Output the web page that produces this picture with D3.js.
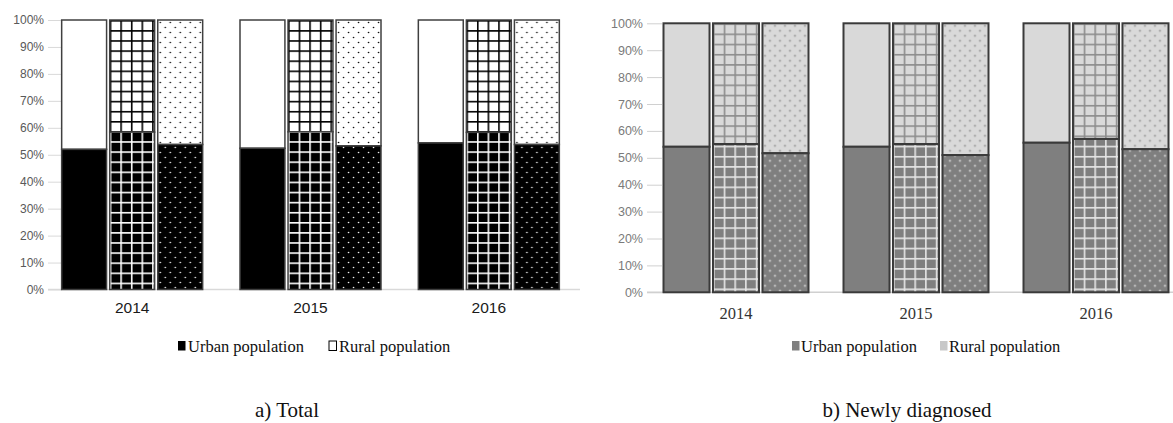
<!DOCTYPE html>
<html>
<head>
<meta charset="utf-8">
<script src="https://cdn.jsdelivr.net/npm/d3@7"></script>
<style>
html,body{margin:0;padding:0;background:#fff;}
svg{display:block;}
</style>
</head>
<body>
<svg id="chart" width="1173" height="423"></svg>
<script>
// ---------- data ----------
const years = ["2014", "2015", "2016"];
const barKinds = ["solid", "grid", "dots"];
const yTicks = [0, 10, 20, 30, 40, 50, 60, 70, 80, 90, 100];
const legendLabels = ["Urban population", "Rural population"];
const captions = ["a) Total", "b) Newly diagnosed"];

// a) Total (percent)
const totalUrbanSolid = [52.0, 52.4, 54.4];
const totalUrbanGrid  = [58.4, 58.5, 58.3];
const totalUrbanDots  = [53.8, 53.3, 53.8];
const totalRuralSolid = [48.0, 47.6, 45.6];
const totalRuralGrid  = [41.6, 41.5, 41.7];
const totalRuralDots  = [46.2, 46.7, 46.2];

// b) Newly diagnosed (percent)
const newUrbanSolid = [54.1, 54.1, 55.6];
const newUrbanGrid  = [55.1, 55.1, 57.0];
const newUrbanDots  = [51.7, 51.0, 53.2];
const newRuralSolid = [45.9, 45.9, 44.4];
const newRuralGrid  = [44.9, 44.9, 43.0];
const newRuralDots  = [48.3, 49.0, 46.8];

// ---------- drawing ----------
const svg = d3.select("#chart");
const defs = svg.append("defs");

function buildRows(urban, rural) {
  const rows = [];
  years.forEach((yr, i) => {
    barKinds.forEach(k => {
      rows.push({year: yr, kind: k, urban: urban[k][i], rural: rural[k][i]});
    });
  });
  return rows;
}

function drawPanel(opt) {
  const g = svg.append("g");
  const x = d3.scaleBand().domain(years).range(opt.xRange).padding(0);
  const xs = d3.scaleBand().domain(barKinds).range([-opt.groupW / 2, opt.groupW / 2]).paddingInner(opt.inner);
  const y = d3.scaleLinear().domain([0, 100]).range(opt.yRange);

  const yAxis = d3.axisLeft(y).tickValues(yTicks).tickFormat(d => d + "%")
    .tickSize(opt.tickLen).tickPadding(opt.tickPad);
  const ax = g.append("g").attr("transform", `translate(${opt.axisX + opt.tickLen},0)`).call(yAxis);
  ax.select(".domain").remove();
  ax.selectAll(".tick line").attr("stroke", opt.tickColor).attr("stroke-width", 1);
  ax.selectAll(".tick text").attr("fill", opt.labelColor)
    .style("font-family", opt.tickFont).style("font-size", opt.tickSize + "px");

  g.append("line").attr("x1", opt.axisX).attr("x2", opt.baseEnd)
    .attr("y1", y(0)).attr("y2", y(0)).attr("stroke", opt.baseColor).attr("stroke-width", 1.5);

  const rows = buildRows(opt.urban, opt.rural);
  const bw = xs.bandwidth();

  rows.forEach((d, i) => {
    const bx = x(d.year) + x.bandwidth() / 2 + xs(d.kind);
    d.x = bx;
    ["urban", "rural"].forEach(part => {
      const id = `${opt.id}-p${i}-${part}`;
      d[part + "Fill"] = part === "urban" ? opt.urbanColor : opt.ruralColor;
      if (d.kind === "solid") return;
      const bg = part === "urban" ? opt.urbanColor : opt.ruralColor;
      const fg = part === "urban" ? opt.urbanMark : opt.ruralMark;
      if (d.kind === "grid") {
        const p = defs.append("pattern").attr("id", id).attr("patternUnits", "userSpaceOnUse")
          .attr("x", bx).attr("y", y(100)).attr("width", opt.cellW).attr("height", opt.cellH);
        p.append("rect").attr("width", opt.cellW).attr("height", opt.cellH).attr("fill", bg);
        p.append("rect").attr("x", 0).attr("y", 0).attr("width", opt.gridLW).attr("height", opt.cellH).attr("fill", fg);
        p.append("rect").attr("x", 0).attr("y", 0).attr("width", opt.cellW).attr("height", opt.gridLW).attr("fill", fg);
      } else {
        const p = defs.append("pattern").attr("id", id).attr("patternUnits", "userSpaceOnUse")
          .attr("x", bx).attr("y", y(100)).attr("width", opt.dotW).attr("height", opt.dotH);
        p.append("rect").attr("width", opt.dotW).attr("height", opt.dotH).attr("fill", bg);
        p.append("circle").attr("cx", opt.dotW * 0.25).attr("cy", opt.dotH * 0.25).attr("r", opt.dotR).attr("fill", fg);
        p.append("circle").attr("cx", opt.dotW * 0.75).attr("cy", opt.dotH * 0.75).attr("r", opt.dotR).attr("fill", fg);
      }
      d[part + "Fill"] = `url(#${id})`;
    });
  });

  const bars = g.selectAll("g.bar").data(rows).join("g").attr("class", "bar");
  bars.append("rect")
    .attr("x", d => d.x).attr("width", bw)
    .attr("y", d => y(d.urban + d.rural)).attr("height", d => y(d.urban) - y(d.urban + d.rural))
    .attr("fill", d => d.ruralFill).attr("stroke", opt.barStroke).attr("stroke-width", opt.barStrokeW);
  bars.append("rect")
    .attr("x", d => d.x).attr("width", bw)
    .attr("y", d => y(d.urban)).attr("height", d => y(0) - y(d.urban))
    .attr("fill", d => d.urbanFill).attr("stroke", opt.barStroke).attr("stroke-width", opt.barStrokeW);

  g.selectAll("text.xl").data(years).join("text").attr("class", "xl")
    .attr("x", d => x(d) + x.bandwidth() / 2).attr("y", opt.xLabelY)
    .attr("text-anchor", "middle").attr("fill", opt.xLabelColor)
    .attr("font-family", opt.xFont).attr("font-size", opt.xFontSize)
    .text(d => d);

  const leg = g.append("g");
  legendLabels.forEach((lab, i) => {
    const lx = opt.legendX[i];
    leg.append("rect").attr("x", lx).attr("y", opt.legendY - 11).attr("width", 7.5).attr("height", 9.5)
      .attr("fill", i === 0 ? opt.legendUrban : opt.legendRural)
      .attr("stroke", i === 0 ? "none" : opt.legendRuralStroke).attr("stroke-width", 1);
    leg.append("text").attr("x", lx + opt.legendGap).attr("y", opt.legendY)
      .attr("fill", "#111").attr("font-family", "Liberation Serif, Times New Roman, serif").attr("font-size", 16.5)
      .text(lab);
  });

  g.append("text").attr("x", opt.captionX).attr("y", 417).attr("text-anchor", "middle")
    .attr("fill", "#111").attr("font-family", "Liberation Serif, Times New Roman, serif").attr("font-size", 21)
    .text(opt.caption);
}

drawPanel({
  id: "a",
  caption: captions[0],
  xRange: [43, 578], groupW: 141, inner: 0.065,
  yRange: [289.5, 20],
  axisX: 48, tickLen: 14, tickPad: 4, baseEnd: 580,
  tickColor: "#d9d9d9", baseColor: "#d9d9d9", labelColor: "#595959",
  tickFont: "'Liberation Sans', sans-serif", tickSize: 12,
  urban: {solid: totalUrbanSolid, grid: totalUrbanGrid, dots: totalUrbanDots},
  rural: {solid: totalRuralSolid, grid: totalRuralGrid, dots: totalRuralDots},
  urbanColor: "#000000", ruralColor: "#ffffff", urbanMark: "#ffffff", ruralMark: "#000000",
  cellW: 10.6, cellH: 10.1, gridLW: 1.6, dotW: 10, dotH: 10, dotR: 0.8,
  barStroke: "#404040", barStrokeW: 1.5,
  xLabelY: 313, xLabelColor: "#1a1a1a", xFont: "Liberation Sans, sans-serif", xFontSize: 15.5,
  legendX: [178, 329], legendY: 352, legendGap: 10,
  legendUrban: "#000", legendRural: "#fff", legendRuralStroke: "#000",
  captionX: 287
});

drawPanel({
  id: "b",
  caption: captions[1],
  xRange: [646, 1186], groupW: 145, inner: 0.07,
  yRange: [292.3, 23.3],
  axisX: 647, tickLen: 15, tickPad: 4, baseEnd: 1173,
  tickColor: "#d0d0d0", baseColor: "#d0d0d0", labelColor: "#7a7a7a",
  tickFont: "'Liberation Sans', sans-serif", tickSize: 12.5,
  urban: {solid: newUrbanSolid, grid: newUrbanGrid, dots: newUrbanDots},
  rural: {solid: newRuralSolid, grid: newRuralGrid, dots: newRuralDots},
  urbanColor: "#7f7f7f", ruralColor: "#d9d9d9", urbanMark: "#e6e6e6", ruralMark: "#8c8c8c",
  cellW: 10.7, cellH: 10.2, gridLW: 1.6, dotW: 10, dotH: 10, dotR: 0.9,
  barStroke: "#3a3a3a", barStrokeW: 2,
  xLabelY: 319, xLabelColor: "#333", xFont: "Liberation Serif, serif", xFontSize: 16.5,
  legendX: [792, 940], legendY: 352, legendGap: 9,
  legendUrban: "#808080", legendRural: "#c8c8c8", legendRuralStroke: "none",
  captionX: 907
});
</script>
</body>
</html>
